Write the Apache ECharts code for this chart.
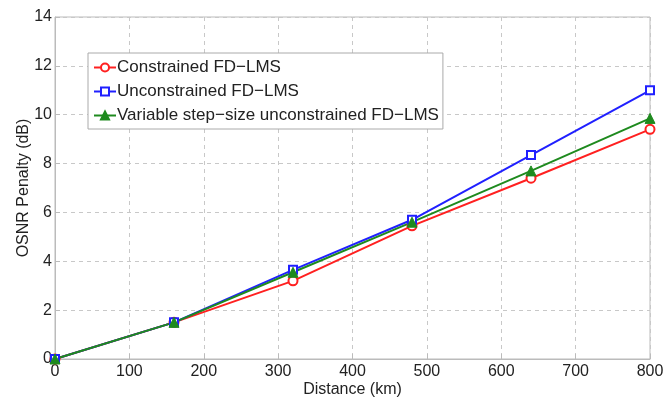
<!DOCTYPE html>
<html><head><meta charset="utf-8">
<script src="https://cdn.jsdelivr.net/npm/echarts@6/dist/echarts.min.js"></script>
<style>html,body{margin:0;padding:0;background:#fff}#c{width:666px;height:397px}</style>
</head><body><div id="c"></div>
<script>
const distances = [0, 160, 320, 480, 640, 800];
const constrained = [0, 1.5, 3.2, 5.45, 7.4, 9.4];
const unconstrained = [0, 1.5, 3.65, 5.7, 8.35, 11.0];
const variableStep = [0, 1.5, 3.55, 5.6, 7.7, 9.85];
const seriesNames = ['Constrained FD\u2212LMS', 'Unconstrained FD\u2212LMS', 'Variable step\u2212size unconstrained FD\u2212LMS'];

const font = 'Liberation Sans, Arial, sans-serif';
function pairs(ys){ return distances.map((x,i)=>[x, ys[i]]); }
const chart = echarts.init(document.getElementById('c'), null, {renderer:'canvas'});
chart.setOption({
  animation:false,
  textStyle:{fontFamily:font},
  grid:{left:55, right:16, top:17, bottom:38, show:true, borderColor:'#bbb', borderWidth:1,
        containLabel:false, outerBoundsMode:'none'},
  legend:{
    orient:'vertical', left:88, top:53, itemWidth:22, itemHeight:10, itemGap:7,
    padding:[6,4,5,5],
    backgroundColor:'#fff', borderColor:'#aaa', borderWidth:1,
    textStyle:{fontFamily:font, fontSize:17, color:'#222', padding:[0,0,0,-4]},
    data:seriesNames
  },
  xAxis:{
    type:'value', min:0, max:800, interval:100,
    name:'Distance (km)', nameLocation:'middle', nameGap:23, nameMoveOverlap:false,
    nameTextStyle:{fontSize:16, color:'#222', fontFamily:font},
    axisLine:{show:true, lineStyle:{color:'#bbb'}},
    axisTick:{show:true, inside:true, length:5, lineStyle:{color:'#bbb'}},
    axisLabel:{fontSize:16, color:'#222', margin:5},
    splitLine:{show:true, lineStyle:{type:[4,4], color:'#c8c8c8'}}
  },
  yAxis:{
    type:'value', min:0, max:14, interval:2,
    name:'OSNR Penalty (dB)', nameLocation:'middle', nameGap:23, nameMoveOverlap:false,
    nameTextStyle:{fontSize:16, color:'#222', fontFamily:font},
    axisLine:{show:true, lineStyle:{color:'#bbb'}},
    axisTick:{show:true, inside:true, length:5, lineStyle:{color:'#bbb'}},
    axisLabel:{fontSize:16, color:'#222', margin:3},
    splitLine:{show:true, lineStyle:{type:[4,4], color:'#c8c8c8'}}
  },
  series:[
    {name:seriesNames[0], type:'line', data:pairs(constrained), color:'#ff2020',
     symbol:'circle', symbolSize:9, lineStyle:{width:2, color:'#ff2020'},
     itemStyle:{color:'#fff', borderColor:'#ff2020', borderWidth:2}},
    {name:seriesNames[1], type:'line', data:pairs(unconstrained), color:'#2020ff',
     symbol:'rect', symbolSize:8, lineStyle:{width:2, color:'#2020ff'},
     itemStyle:{color:'#fff', borderColor:'#2020ff', borderWidth:2}},
    {name:seriesNames[2], type:'line', data:pairs(variableStep), color:'#1e8a1e',
     symbol:'triangle', symbolSize:10, lineStyle:{width:2, color:'#1e8a1e'},
     itemStyle:{color:'#1e8a1e', borderColor:'#1e8a1e', borderWidth:1}}
  ]
});
</script></body></html>
